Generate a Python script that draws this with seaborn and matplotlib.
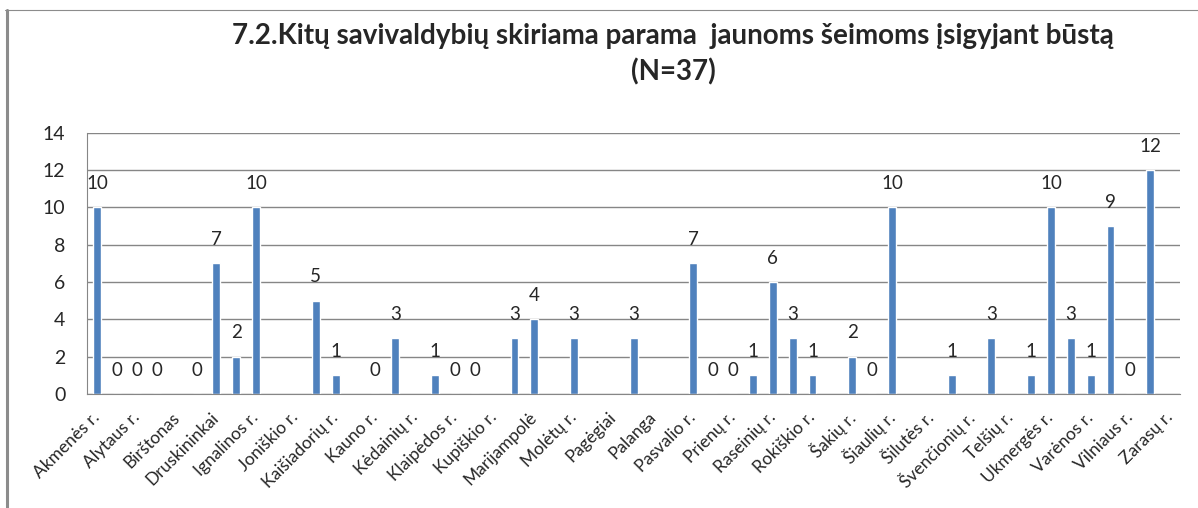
import numpy as np
import pandas as pd
import matplotlib.pyplot as plt
import seaborn as sns
from matplotlib.lines import Line2D

# municipalities (5 city municipalities not in the list), alphabetical as in the source
municipalities = [
    'Akmenės r.', 'Alytaus m.', 'Alytaus r.', 'Anykščių r.', 'Birštonas', 'Biržų r.',
    'Druskininkai', 'Elektrėnai', 'Ignalinos r.', 'Jonavos r.', 'Joniškio r.', 'Jurbarko r.',
    'Kaišiadorių r.', 'Kalvarijos', 'Kauno r.', 'Kazlų Rūdos', 'Kėdainių r.', 'Kelmės r.',
    'Klaipėdos r.', 'Kretingos r.', 'Kupiškio r.', 'Lazdijų r.', 'Marijampolė', 'Mažeikių r.',
    'Molėtų r.', 'Neringa', 'Pagėgiai', 'Pakruojo r.', 'Palanga', 'Panevėžio r.',
    'Pasvalio r.', 'Plungės r.', 'Prienų r.', 'Radviliškio r.', 'Raseinių r.', 'Rietavas',
    'Rokiškio r.', 'Skuodo r.', 'Šakių r.', 'Šalčininkų r.', 'Šiaulių r.', 'Šilalės r.',
    'Šilutės r.', 'Širvintų r.', 'Švenčionių r.', 'Tauragės r.', 'Telšių r.', 'Trakų r.',
    'Ukmergės r.', 'Utenos r.', 'Varėnos r.', 'Vilkaviškio r.', 'Vilniaus r.', 'Visaginas',
    'Zarasų r.',
]

# None = no answer (no bar, no label)
values = [
    10, 0, 0, 0, None, 0,
    7, 2, 10, None, None, 5,
    1, None, 0, 3, None, 1,
    0, 0, None, 3, 4, None,
    3, None, None, 3, None, None,
    7, 0, 0, 1, 6, 3,
    1, None, 2, 0, 10, None,
    None, 1, None, 3, None, 1,
    10, 3, 1, 9, 0, 12,
    None,
]

# only every second name fits under the axis
shown_labels = municipalities[::2]

title_line1 = '7.2.Kitų savivaldybių skiriama parama  jaunoms šeimoms įsigyjant būstą'
title_line2 = '(N=37)'

df = pd.DataFrame({'savivaldybe': municipalities, 'kiekis': values})

sns.set_style('white')
plt.rcParams['font.family'] = ['Lato', 'DejaVu Sans']

grey = '#868686'

fig = plt.figure(figsize=(11.98, 5.08), dpi=100)
ax = fig.add_axes([0.0729, 0.2244, 0.9121, 0.5144])

sns.barplot(data=df, x='savivaldybe', y='kiekis', order=municipalities, color='#4F81BD',
            saturation=1, width=0.4, errorbar=None, ax=ax)

# value labels above the bars
for i, v in enumerate(df['kiekis']):
    if not np.isnan(v):
        ax.annotate(f'{int(v)}', (i, v), xytext=(0, 11), textcoords='offset points',
                    ha='center', va='bottom', fontsize=13.5)

ax.set_xlim(-0.5, len(municipalities) - 0.5)
ax.set_ylim(0, 14)
ax.set_yticks(range(0, 15, 2))
ax.set_xlabel('')
ax.set_ylabel('')

# tick marks between categories, names on every second category
ax.set_xticks(np.arange(-0.5, len(municipalities)), labels=[])
ax.set_xticks(range(0, len(municipalities), 2), labels=shown_labels, minor=True)
for lbl in ax.get_xticklabels(minor=True):
    lbl.set_rotation(45)
    lbl.set_ha('right')
    lbl.set_va('center')
    lbl.set_rotation_mode('anchor')

ax.tick_params(axis='x', which='major', length=4.3, width=0.8, color=grey)
ax.tick_params(axis='x', which='minor', length=0, pad=15, labelsize=12.5)
ax.tick_params(axis='y', length=5.8, width=0.8, color=grey, pad=10, labelsize=14)

ax.yaxis.grid(True, color=grey, lw=1.0)
ax.set_axisbelow(True)
ax.spines[['top', 'right']].set_visible(False)
ax.spines[['left', 'bottom']].set_color(grey)

fig.text(0.562, 1 - 36 / 508, title_line1, ha='center', va='center', fontsize=20, fontweight='bold')
fig.text(0.562, 1 - 72 / 508, title_line2, ha='center', va='center', fontsize=20, fontweight='bold')

# chart frame (only top and left edge are inside the picture)
fig.add_artist(Line2D([5 / 1198, 1], [1 - 9.5 / 508] * 2, transform=fig.transFigure, color='#8c8c8c', lw=0.8))
fig.add_artist(Line2D([6.5 / 1198] * 2, [0, 1 - 9.5 / 508], transform=fig.transFigure, color='#8c8c8c', lw=2.2))

fig.savefig('out.png', dpi=100)
